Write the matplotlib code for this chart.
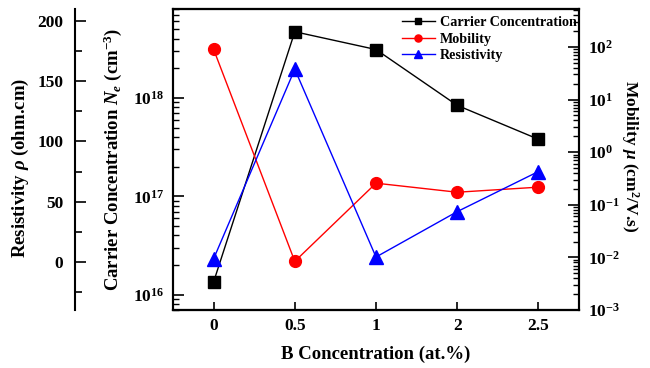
import matplotlib
matplotlib.use('Agg')
import matplotlib.pyplot as plt
from matplotlib.ticker import LogLocator, MultipleLocator, NullFormatter

plt.rcParams['font.family'] = ['Liberation Serif', 'DejaVu Serif']
plt.rcParams['font.weight'] = 'bold'
plt.rcParams['axes.labelweight'] = 'bold'
plt.rcParams['mathtext.fontset'] = 'custom'
plt.rcParams['mathtext.rm'] = 'Liberation Serif:bold'
plt.rcParams['mathtext.it'] = 'Liberation Serif:italic:bold'
plt.rcParams['mathtext.bf'] = 'Liberation Serif:bold'

# ---- data ----
categories = ['0', '0.5', '1', '2', '2.5']
carrier = [1.35e16, 4.7e18, 3.1e18, 8.4e17, 3.8e17]      # cm^-3
mobility = [90, 8.4e-3, 0.257, 0.173, 0.216]             # cm^2/V.s
resistivity = [2.5, 160, 4, 41.7, 75]                     # ohm.cm
xpos = list(range(len(categories)))

fig = plt.figure(figsize=(6.5, 3.68), dpi=100)
ax = fig.add_axes([173/650, 1-310/368, 406/650, 301/368])
ax2 = ax.twinx()
ax3 = ax.twinx()

lw_spine = 1.5
for a in (ax, ax2, ax3):
    for s in a.spines.values():
        s.set_linewidth(lw_spine)

TICK_FS = 12.5
LABEL_FS = 13.5

# carrier concentration (main, left, log)
l1, = ax.plot(xpos, carrier, color='black', marker='s', markersize=8, lw=1.0, label='Carrier Concentration')
ax.set_yscale('log')
ax.set_ylim(7e15, 8e18)
ax.set_xlim(-0.5, 4.5)
ax.set_xticks(xpos)
ax.set_xticklabels(categories)
ax.yaxis.set_major_locator(LogLocator(base=10, numticks=10))
ax.yaxis.set_minor_locator(LogLocator(base=10, subs=range(2, 10), numticks=20))
ax.yaxis.set_minor_formatter(NullFormatter())
ax.tick_params(axis='y', which='both', direction='in', left=True, right=False, labelsize=TICK_FS, pad=6.5)
ax.tick_params(axis='y', which='major', length=8, width=1.2)
ax.tick_params(axis='y', which='minor', length=4, width=1.0)
ax.tick_params(axis='x', which='both', direction='in', top=False, length=6, width=1.2, labelsize=TICK_FS, pad=6)
ax.set_xlabel('B Concentration (at.%)', fontsize=LABEL_FS, labelpad=8)
ax.set_ylabel('Carrier Concentration $N_e$ (cm$^{-3}$)', fontsize=LABEL_FS)
ax.yaxis.set_label_coords(-0.148, 0.50)
ax.yaxis.label.set_va('center')

# mobility (right, log)
l2, = ax2.plot(xpos, mobility, color='red', marker='o', markersize=8.5, lw=1.0, label='Mobility')
ax2.set_yscale('log')
ax2.set_ylim(1e-3, 10**2.72)
ax2.yaxis.set_major_locator(LogLocator(base=10, numticks=10))
ax2.yaxis.set_minor_locator(LogLocator(base=10, subs=range(2, 10), numticks=20))
ax2.yaxis.set_minor_formatter(NullFormatter())
ax2.tick_params(axis='y', which='both', direction='in', labelsize=TICK_FS, pad=6.5)
ax2.tick_params(axis='y', which='major', length=8, width=1.2)
ax2.tick_params(axis='y', which='minor', length=4, width=1.0)
ax2.set_ylabel('Mobility $\\mu$ (cm$^{2}$/V.s)', fontsize=12.5, rotation=270)
ax2.yaxis.set_label_coords(1.1256, 0.51)
ax2.yaxis.label.set_va('center')

# resistivity (outer left, linear)
l3, = ax3.plot(xpos, resistivity, color='blue', marker='^', markersize=9.5, lw=1.0, label='Resistivity')
ax3.set_ylim(-40, 210)
ax3.spines['left'].set_position(('axes', -0.2414))
ax3.spines['left'].set_visible(True)
ax3.spines['right'].set_visible(False)
ax3.yaxis.set_label_position('left')
ax3.yaxis.set_ticks_position('left')
ax3.yaxis.set_major_locator(MultipleLocator(50))
ax3.yaxis.set_minor_locator(MultipleLocator(25))
ax3.tick_params(axis='y', which='both', direction='in', labelsize=TICK_FS, pad=8.5)
ax3.tick_params(axis='y', which='major', length=8, width=1.2)
ax3.tick_params(axis='y', which='minor', length=5, width=1.2)
ax3.set_ylabel('Resistivity $\\rho$ (ohm.cm)', fontsize=LABEL_FS)
ax3.yaxis.set_label_coords(-0.377, 0.472)
ax3.yaxis.label.set_va('center')

leg = ax3.legend(handles=[l1, l2, l3], loc='upper left',
                 bbox_to_anchor=(402/650, 1-16/368), bbox_transform=fig.transFigure,
                 frameon=False, fontsize=10.2, borderpad=0, borderaxespad=0,
                 handlelength=2.3, handletextpad=0.35, labelspacing=0.25, markerscale=0.6)

fig.savefig('out.png', dpi=100)
